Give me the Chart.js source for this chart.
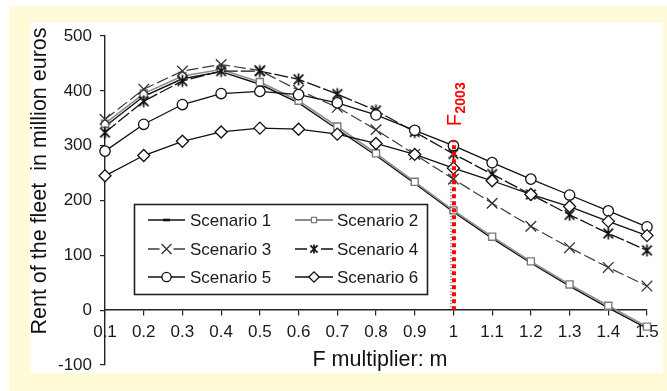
<!DOCTYPE html>
<html>
<head>
<meta charset="utf-8">
<script src="https://cdn.jsdelivr.net/npm/chart.js@4/dist/chart.umd.min.js"></script>
<style>
  html, body { margin: 0; padding: 0; background: #ffffff; }
  canvas { display: block; }
</style>
</head>
<body>
<canvas id="c" width="667" height="391"></canvas>
<script>
// ---- data ----
const categories = ['0.1','0.2','0.3','0.4','0.5','0.6','0.7','0.8','0.9','1','1.1','1.2','1.3','1.4','1.5'];
const scenario1 = [335, 390, 422, 435, 412, 378, 330, 282, 231, 179, 131, 86, 44, 4, -33];
const scenario2 = [340, 395, 427, 439, 416, 382, 335, 286, 234, 182, 134, 89, 47, 8, -30];
const scenario3 = [348, 403, 436, 448, 437, 401, 370, 329, 284, 239, 195, 153, 114, 78, 44];
const scenario4 = [324, 381, 418, 436, 436, 421, 394, 364, 325, 285, 248, 211, 174, 140, 109];
const scenario5 = [290, 339, 375, 395, 399, 393, 378, 356, 328, 300, 269, 239, 210, 181, 152];
const scenario6 = [245, 282, 308, 325, 332, 330, 321, 304, 284, 259, 236, 211, 189, 162, 136];
const seriesNames = ['Scenario 1','Scenario 2','Scenario 3','Scenario 4','Scenario 5','Scenario 6'];
const yTickValues = [-100, 0, 100, 200, 300, 400, 500];
const f2003Category = '1';
const f2003Top = 310;
const yTitle = 'Rent of the fleet  in million euros';
const xTitle = 'F multiplier: m';

const FONT = "'Liberation Sans', Arial, Helvetica, sans-serif";
Chart.defaults.font.family = FONT;
Chart.defaults.color = '#1a1a1a';

function makeAsterisk(size) {
  const c = document.createElement('canvas');
  c.width = size; c.height = size;
  const g = c.getContext('2d');
  const m = size / 2, r = size / 2 - 1.5;
  g.strokeStyle = '#111';
  g.lineWidth = 1.7;
  g.beginPath();
  g.moveTo(m - r * 0.8, m - r * 0.8); g.lineTo(m + r * 0.8, m + r * 0.8);
  g.moveTo(m + r * 0.8, m - r * 0.8); g.lineTo(m - r * 0.8, m + r * 0.8);
  g.moveTo(m, m - r); g.lineTo(m, m + r);
  g.stroke();
  return c;
}
const asteriskBig = makeAsterisk(15);
const asteriskSmall = makeAsterisk(12);

const styles = [
  { color: '#111', dash: [], point: 'line', radius: 3.5, pbw: 2.6, pfill: '#111', pcolor: '#111', bw: 1.4 },
  { color: '#8c8c8c', dash: [], point: 'rect', radius: 5, pbw: 1.4, pfill: '#fff', pcolor: '#7a7a7a', bw: 1.6 },
  { color: '#3c3c3c', dash: [12, 4], point: 'crossRot', radius: 7.5, pbw: 1.3, pfill: '#fff', pcolor: '#333', bw: 1.2 },
  { color: '#111', dash: [14, 3], point: asteriskBig, radius: 6, pbw: 1.5, pfill: '#fff', pcolor: '#111', bw: 1.3 },
  { color: '#111', dash: [], point: 'circle', radius: 5.2, pbw: 1.3, pfill: '#fff', pcolor: '#111', bw: 1.3 },
  { color: '#111', dash: [], point: 'rectRot', radius: 6, pbw: 1.3, pfill: '#fff', pcolor: '#111', bw: 1.3 }
];
const allSeries = [scenario1, scenario2, scenario3, scenario4, scenario5, scenario6];

const drawOrder = [1, 0, 2, 3, 4, 5];
const datasets = drawOrder.map(i => ({
  label: seriesNames[i],
  data: allSeries[i],
  borderColor: styles[i].color,
  borderWidth: styles[i].bw,
  borderDash: styles[i].dash,
  pointStyle: styles[i].point,
  pointRadius: styles[i].radius,
  pointBorderWidth: styles[i].pbw,
  pointBackgroundColor: styles[i].pfill,
  pointBorderColor: styles[i].pcolor,
  tension: 0,
  fill: false,
  order: 6 - i
}));

const decor = {
  id: 'decor',
  beforeDraw(chart) {
    const ctx = chart.ctx;
    ctx.save();
    ctx.fillStyle = '#ffffff';
    ctx.fillRect(0, 0, 667, 391);
    ctx.fillStyle = '#fffbd8';
    ctx.fillRect(9, 6, 658, 385);
    ctx.fillStyle = '#ffffff';
    ctx.fillRect(30, 23, 633, 350);
    ctx.restore();
  },
  afterDatasetsDraw(chart) {
    const ctx = chart.ctx;
    const xs = chart.scales.x, ys = chart.scales.y;
    const x = xs.getPixelForValue(categories.indexOf(f2003Category));
    const y0 = ys.getPixelForValue(0);
    const y1 = ys.getPixelForValue(f2003Top);
    ctx.save();
    ctx.strokeStyle = '#222';
    ctx.lineWidth = 1;
    ctx.setLineDash([1, 2]);
    ctx.beginPath();
    ctx.moveTo(x - 2.5, y0); ctx.lineTo(x - 2.5, y1 + 20);
    ctx.stroke();
    ctx.strokeStyle = '#ff0000';
    ctx.lineWidth = 4;
    ctx.setLineDash([4, 3]);
    ctx.beginPath();
    ctx.moveTo(x + 0.5, y0); ctx.lineTo(x + 0.5, y1);
    ctx.stroke();
    ctx.setLineDash([]);
    ctx.fillStyle = '#ff0000';
    ctx.translate(x + 8, y1 - 14);
    ctx.rotate(-Math.PI / 2);
    ctx.textBaseline = 'alphabetic';
    ctx.textAlign = 'left';
    ctx.font = '20px ' + FONT;
    ctx.fillText('F', 0, 0);
    const wF = ctx.measureText('F').width;
    ctx.font = 'bold 14px ' + FONT;
    ctx.fillText('2003', wF + 0.5, 3.5);
    ctx.restore();
  },
  afterDraw(chart) {
    const ctx = chart.ctx;
    ctx.save();
    ctx.fillStyle = '#111';
    ctx.textAlign = 'center';
    ctx.textBaseline = 'middle';
    ctx.font = '21.5px ' + FONT;
    ctx.fillText(xTitle, 380, 360);
    ctx.translate(40, 181);
    ctx.rotate(-Math.PI / 2);
    ctx.font = '21.5px ' + FONT;
    ctx.fillText(yTitle, 0, 0);
    ctx.restore();

    // legend
    ctx.save();
    ctx.fillStyle = '#ffffff';
    ctx.fillRect(134.5, 204.5, 293, 90);
    ctx.strokeStyle = '#222';
    ctx.lineWidth = 1.6;
    ctx.strokeRect(134.5, 204.5, 293, 90);
    const rows = [220, 249, 277];
    const cols = [{ l0: 148, l1: 185, t: 190 }, { l0: 295, l1: 333, t: 337 }];
    const lstyles = [
      { point: 'line', radius: 3.5, pbw: 2.6 },
      { point: 'rect', radius: 3.6, pbw: 1.2 },
      { point: 'crossRot', radius: 7, pbw: 1.3, gap: true },
      { point: asteriskSmall, radius: 5, pbw: 1.3, gap: true },
      { point: 'circle', radius: 4.6, pbw: 1.3 },
      { point: 'rectRot', radius: 5.2, pbw: 1.3 }
    ];
    for (let i = 0; i < 6; i++) {
      const col = cols[i % 2], row = rows[Math.floor(i / 2)];
      const st = styles[i], ls = lstyles[i];
      const cx = (col.l0 + col.l1) / 2;
      ctx.strokeStyle = st.color;
      ctx.lineWidth = st.bw + 0.2;
      ctx.setLineDash([]);
      ctx.beginPath();
      if (ls.gap) {
        ctx.moveTo(col.l0, row); ctx.lineTo(cx - 7, row);
        ctx.moveTo(cx + 7, row); ctx.lineTo(col.l1, row);
      } else {
        ctx.moveTo(col.l0, row); ctx.lineTo(col.l1, row);
      }
      ctx.stroke();
      ctx.fillStyle = st.pfill;
      ctx.strokeStyle = st.pcolor;
      ctx.lineWidth = ls.pbw;
      Chart.helpers.drawPoint(ctx, { pointStyle: ls.point, rotation: 0, radius: ls.radius, borderWidth: ls.pbw }, cx, row);
      ctx.fillStyle = '#1a1a1a';
      ctx.font = '17px ' + FONT;
      ctx.textAlign = 'left';
      ctx.textBaseline = 'middle';
      ctx.fillText(seriesNames[i], col.t, row + 1);
    }
    ctx.restore();
  }
};

new Chart(document.getElementById('c'), {
  type: 'line',
  data: { labels: categories, datasets },
  plugins: [decor],
  options: {
    responsive: false,
    animation: false,
    devicePixelRatio: 1,
    layout: { padding: { left: 0, right: 20, top: 36, bottom: 26 } },
    plugins: { legend: { display: false }, tooltip: { enabled: false } },
    scales: {
      x: {
        type: 'category',
        offset: false,
        position: { y: 0 },
        grid: { display: true, drawOnChartArea: false, drawTicks: true, tickLength: 5, color: '#222', lineWidth: 1.2 },
        border: { display: true, color: '#222', width: 1.4 },
        ticks: { color: '#1a1a1a', font: { size: 17 }, padding: 7, maxRotation: 0, autoSkip: false }
      },
      y: {
        type: 'linear',
        position: 'left',
        min: -100,
        max: 500,
        afterFit(scale) { scale.width = 105; },
        afterBuildTicks(scale) { scale.ticks = yTickValues.map(v => ({ value: v })); },
        grid: { display: true, drawOnChartArea: false, drawTicks: true, tickLength: 5, color: '#222', lineWidth: 1.2 },
        border: { display: true, color: '#222', width: 1.4 },
        ticks: { color: '#1a1a1a', font: { size: 17 }, padding: 8 }
      }
    }
  }
});
</script>
</body>
</html>
